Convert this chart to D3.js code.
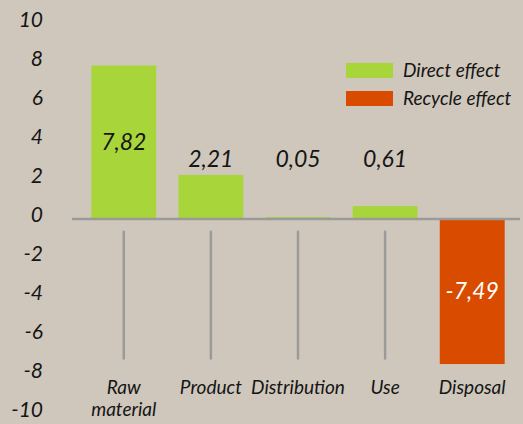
<!DOCTYPE html>
<html><head><meta charset="utf-8">
<script src="https://cdn.jsdelivr.net/npm/d3@7"></script>
<style>
html,body{margin:0;padding:0;background:#cfc7bb;}
svg{display:block;}
text{font-family:Lato,"Open Sans",sans-serif;font-style:italic;font-weight:400;fill:#151515;}
</style></head>
<body><svg id="chart" width="523" height="424"></svg>
<script>
const categories = ["Raw material", "Product", "Distribution", "Use", "Disposal"];
const values = [7.82, 2.21, 0.05, 0.61, -7.49];
const valueLabels = ["7,82", "2,21", "0,05", "0,61", "-7,49"];
const seriesNames = ["Direct effect", "Recycle effect"];
const yTicks = [10, 8, 6, 4, 2, 0, -2, -4, -6, -8, -10];

const W = 523, H = 424;
const svg = d3.select("#chart");
const colors = {"Direct effect": "#a8d63a", "Recycle effect": "#d94c00"};

const x = d3.scaleBand().domain(categories).range([80, 516]).paddingInner(0.255).paddingOuter(0.13);
const y = d3.scaleLinear().domain([-10, 10]).range([413, 23]);

// y axis labels
const yAxis = d3.axisLeft(y).tickValues(yTicks).tickSize(0).tickPadding(0).tickFormat(d => d);
const ga = svg.append("g").attr("transform", "translate(43,-3)").call(yAxis);
ga.select(".domain").remove();
ga.selectAll("text").style("font-family", "Lato, sans-serif").style("font-style", "italic")
  .style("font-weight", "400").style("font-size", "21px").attr("fill", "#151515");

// vertical guide lines under categories
svg.append("g").selectAll("line").data(categories.filter((c, i) => values[i] > 0)).join("line")
  .attr("x1", d => x(d) + x.bandwidth() / 2).attr("x2", d => x(d) + x.bandwidth() / 2)
  .attr("y1", y(-0.7)).attr("y2", y(-7.2))
  .attr("stroke", "#9a9a9a").attr("stroke-width", 2.5).attr("stroke-linecap", "round");

// bars
svg.append("g").selectAll("rect").data(values).join("rect")
  .attr("x", (d, i) => x(categories[i]))
  .attr("width", x.bandwidth())
  .attr("y", d => y(Math.max(0, d)))
  .attr("height", d => Math.abs(y(d) - y(0)))
  .attr("fill", d => d >= 0 ? colors["Direct effect"] : colors["Recycle effect"]);

// zero line
svg.append("line").attr("x1", 72).attr("x2", 520).attr("y1", y(0) + 1).attr("y2", y(0) + 1)
  .attr("stroke", "#9a9a9a").attr("stroke-width", 2.5);

// value labels
const smallTop = y(d3.max(values.filter(v => v > 0 && v < 5))) - 8;
svg.append("g").selectAll("text").data(values).join("text")
  .attr("x", (d, i) => x(categories[i]) + x.bandwidth() / 2)
  .attr("y", d => Math.abs(d) > 5 ? (y(d) + y(0)) / 2 + 8 : smallTop)
  .attr("text-anchor", "middle").style("font-size", "23px")
  .style("fill", d => d < 0 ? "#ffffff" : "#151515")
  .text((d, i) => valueLabels[i]);

// category labels
const cl = svg.append("g").selectAll("text").data(categories).join("text")
  .attr("x", d => x(d) + x.bandwidth() / 2).attr("y", 394)
  .attr("text-anchor", "middle").style("font-size", "19px");
cl.each(function(d) {
  const words = d === "Raw material" ? ["Raw", "material"] : [d];
  const t = d3.select(this);
  words.forEach((w, k) => t.append("tspan").attr("x", x(d) + x.bandwidth() / 2).attr("dy", k ? 22 : 0).text(w));
});

// legend
const lg = svg.append("g").selectAll("g").data(seriesNames).join("g")
  .attr("transform", (d, i) => `translate(346,${63 + i * 28})`);
lg.append("rect").attr("width", 47).attr("height", 15).attr("fill", d => colors[d]);
lg.append("text").attr("x", 57).attr("y", 14).style("font-size", "19px").text(d => d);
</script></body></html>
